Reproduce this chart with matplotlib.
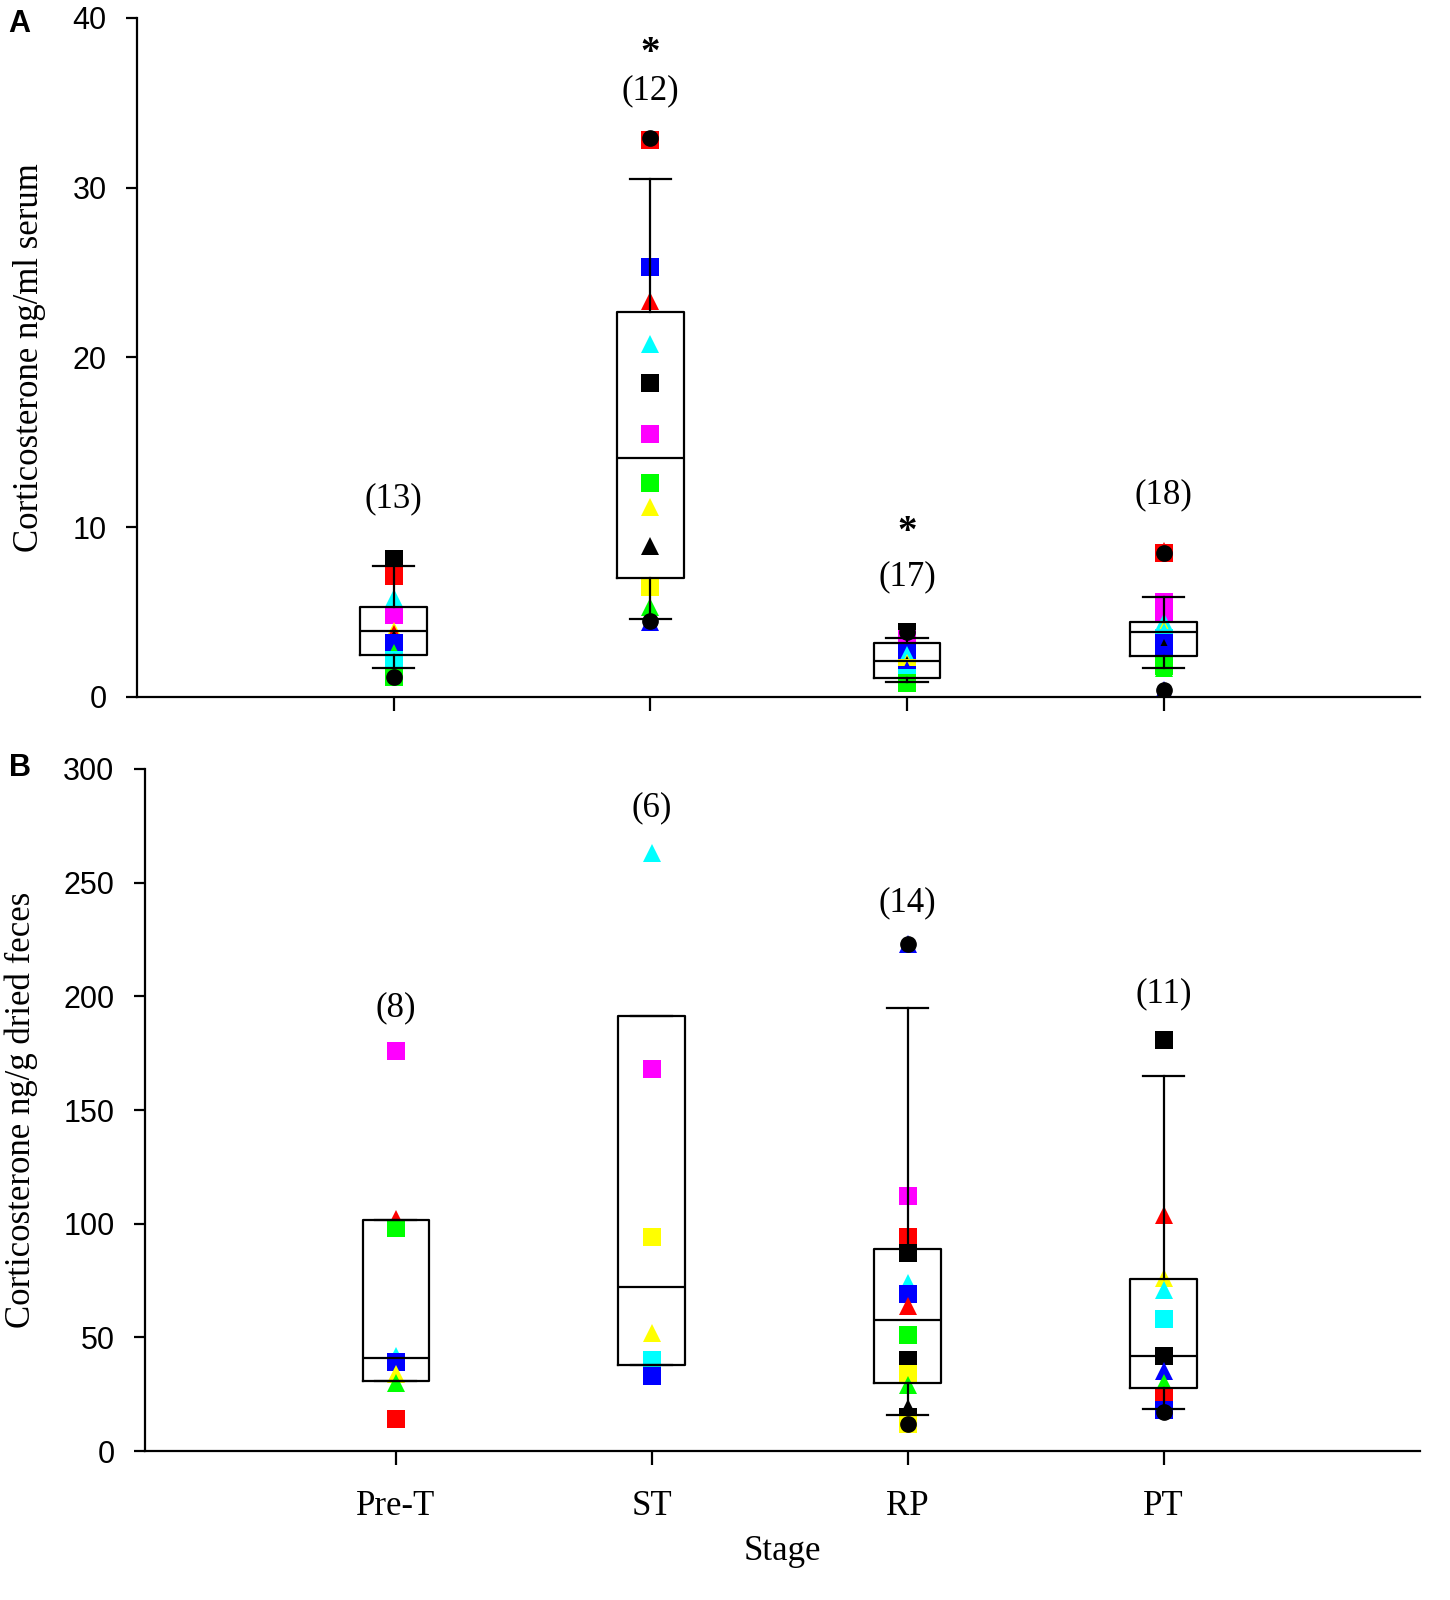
import numpy as np
import matplotlib
matplotlib.use("Agg")
import matplotlib.pyplot as plt

plt.rcParams["font.family"] = ["Liberation Serif", "DejaVu Serif"]

stages = ["Pre-T", "ST", "RP", "PT"]

# colour letters used in the point codes below
palette = {"k": "#000000", "r": "#ff0000", "b": "#0000ff", "c": "#00ffff",
           "m": "#ff00ff", "g": "#00ff00", "y": "#ffff00"}

# ---- panel A: serum corticosterone (ng/ml) ----
a_pret_vals = [8.1, 7.1, 5.8, 4.8, 3.9, 3.7, 3.4, 3.2, 3.0, 2.6, 2.2, 1.8, 1.2]
a_pret_pts = ["ks", "rs", "c^", "ms", "y^", "r^", "k^", "bs", "b^", "g^", "cs", "cs", "gs"]
a_st_vals = [32.8, 25.3, 23.3, 20.8, 18.5, 15.5, 12.6, 11.2, 8.9, 6.5, 5.3, 4.4]
a_st_pts = ["rs", "bs", "r^", "c^", "ks", "ms", "gs", "y^", "k^", "ys", "g^", "b^"]
a_rp_vals = [3.8, 3.4, 3.0, 2.8, 2.7, 2.6, 2.5, 2.2, 2.0, 1.9, 1.7, 1.6, 1.4, 1.3, 1.1, 0.9, 0.8]
a_rp_pts = ["ks", "ms", "ms", "r^", "rs", "bs", "c^", "c^", "y^", "k^", "ys", "b^", "b^", "bs", "cs", "cs", "gs"]
a_pt_vals = [8.5, 5.6, 5.0, 4.4, 4.0, 3.8, 3.5, 3.2, 2.9, 2.6, 2.5, 2.3, 2.0, 1.8, 1.8, 1.7, 0.4, 8.6]
a_pt_pts = ["rs", "ms", "ms", "c^", "y^", "c^", "cs", "bs", "k^", "k^", "bs", "b^", "b^", "cs", "gs", "g^", "b^", "r^"]

a_q1 = [2.5, 7.0, 1.1, 2.4]
a_med = [3.9, 14.1, 2.1, 3.8]
a_q3 = [5.3, 22.7, 3.2, 4.4]
a_whislo = [1.7, 4.6, 0.9, 1.7]
a_whishi = [7.7, 30.5, 3.5, 5.9]
a_fliers = [[8.2, 1.2], [32.9, 4.5], [3.85], [8.5, 0.4]]
a_n = ["(13)", "(12)", "(17)", "(18)"]
a_n_y = [11.7, 35.7, 7.1, 11.9]
a_star = [None, 37.9, 9.7, None]

# ---- panel B: faecal corticosterone (ng/g dried feces) ----
b_pret_vals = [176, 102, 98, 42, 39, 34, 30, 14]
b_pret_pts = ["ms", "r^", "gs", "c^", "bs", "y^", "g^", "rs"]
b_st_vals = [263, 168, 94, 52, 40, 33]
b_st_pts = ["c^", "ms", "ys", "y^", "cs", "bs"]
b_rp_vals = [223, 112, 94, 87, 74, 69, 64, 51, 40, 34, 29, 19, 15, 12]
b_rp_pts = ["b^", "ms", "rs", "ks", "c^", "bs", "r^", "gs", "ks", "ys", "g^", "k^", "ks", "ys"]
b_pt_vals = [181, 104, 76, 71, 58, 42, 35, 30, 24, 22, 18]
b_pt_pts = ["ks", "r^", "y^", "c^", "cs", "ks", "b^", "g^", "rs", "rs", "bs"]

b_q1 = [30.8, 37.8, 30.0, 27.7]
b_med = [41.0, 72.0, 57.5, 42.0]
b_q3 = [101.5, 191.5, 89.0, 75.5]
b_whislo = [30.8, 37.8, 16.0, 18.5]
b_whishi = [101.5, 191.5, 195.0, 165.0]
b_fliers = [[], [], [223, 12], [17]]
b_n = ["(8)", "(6)", "(14)", "(11)"]
b_n_y = [195, 283, 241, 201]


def draw_points(ax, xpos, vals, codes):
    for v, code in zip(vals, codes):
        ax.plot(xpos, v, marker=code[1], color=palette[code[0]], markersize=13,
                markeredgewidth=0, linestyle="none", zorder=2)


def draw_boxes(ax, q1, med, q3, lo, hi, fliers):
    stats = []
    for i in range(len(stages)):
        stats.append({"q1": q1[i], "med": med[i], "q3": q3[i],
                      "whislo": lo[i], "whishi": hi[i], "fliers": fliers[i]})
    lp = dict(color="black", linewidth=1.6)
    ax.bxp(stats, positions=np.arange(1, len(stages) + 1), widths=0.26,
           capwidths=0.16, boxprops=lp, whiskerprops=lp, capprops=lp,
           medianprops=lp,
           flierprops=dict(marker="o", markerfacecolor="black",
                           markeredgecolor="black", markersize=11),
           manage_ticks=False, zorder=3)


def style_axis(ax, ylim, yticks, ylabel, lpad):
    ax.set_ylim(*ylim)
    ax.set_yticks(yticks)
    ax.spines["top"].set_visible(False)
    ax.spines["right"].set_visible(False)
    ax.spines["left"].set_linewidth(1.6)
    ax.spines["bottom"].set_linewidth(1.6)
    ax.tick_params(axis="both", direction="out", length=8, width=1.6)
    ax.tick_params(axis="y", pad=14)
    for lab in ax.get_yticklabels():
        lab.set_fontfamily("Liberation Sans")
        lab.set_fontsize(22)
    ax.set_ylabel(ylabel, fontsize=25, labelpad=lpad)


fig = plt.figure(figsize=(14.5, 16), dpi=100)

# panel A
ax1 = fig.add_axes([0.0945, 0.5644, 0.885, 0.4244])
xs = np.arange(1, len(stages) + 1)
for xp, vals, pts in zip(xs, [a_pret_vals, a_st_vals, a_rp_vals, a_pt_vals],
                         [a_pret_pts, a_st_pts, a_rp_pts, a_pt_pts]):
    draw_points(ax1, xp, vals, pts)
draw_boxes(ax1, a_q1, a_med, a_q3, a_whislo, a_whishi, a_fliers)
for xp, lab, yv, st in zip(xs, a_n, a_n_y, a_star):
    ax1.text(xp, yv, lab, ha="center", va="center", fontsize=25)
    if st is not None:
        ax1.text(xp, st, "*", ha="center", va="center", fontsize=28, fontweight="bold")
ax1.set_xlim(0, 5)
ax1.set_xticks(xs)
ax1.set_xticklabels([])
style_axis(ax1, (0, 40), [0, 10, 20, 30, 40], "Corticosterone ng/ml serum", 19)
ax1.tick_params(axis="x", length=10)

# panel B
ax2 = fig.add_axes([0.1, 0.0931, 0.879, 0.4263])
for xp, vals, pts in zip(xs, [b_pret_vals, b_st_vals, b_rp_vals, b_pt_vals],
                         [b_pret_pts, b_st_pts, b_rp_pts, b_pt_pts]):
    draw_points(ax2, xp, vals, pts)
draw_boxes(ax2, b_q1, b_med, b_q3, b_whislo, b_whishi, b_fliers)
for xp, lab, yv in zip(xs, b_n, b_n_y):
    ax2.text(xp, yv, lab, ha="center", va="center", fontsize=25)
ax2.set_xlim(0.02, 5)
ax2.set_xticks(xs)
ax2.set_xticklabels(stages, fontsize=25)
style_axis(ax2, (0, 300), [0, 50, 100, 150, 200, 250, 300], "Corticosterone ng/g dried feces", 18)
ax2.tick_params(axis="x", length=10, pad=18)
ax2.set_xlabel("Stage", fontsize=25, labelpad=9)

fig.text(0.006, 0.985, "A", fontsize=22, fontweight="bold", family="Liberation Sans", va="center")
fig.text(0.006, 0.52, "B", fontsize=22, fontweight="bold", family="Liberation Sans", va="center")

fig.savefig("out.png", dpi=100)
